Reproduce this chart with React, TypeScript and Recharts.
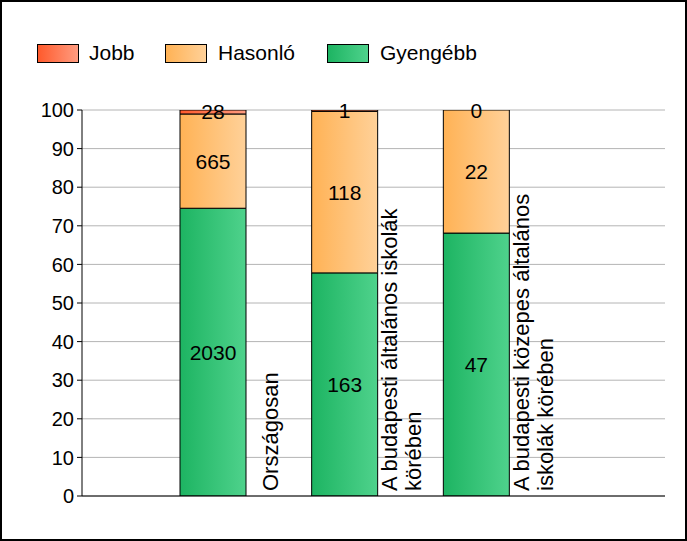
import { BarChart, Bar, XAxis, YAxis, CartesianGrid, Legend, LabelList } from "recharts";

const categories = [
  ["Országosan"],
  ["A budapesti általános iskolák", "körében"],
  ["A budapesti közepes általános", "iskolák körében"],
];
const jobb = [28, 1, 0];
const hasonlo = [665, 118, 22];
const gyengebb = [2030, 163, 47];
const yTicks = [0, 10, 20, 30, 40, 50, 60, 70, 80, 90, 100];

const series = [
  { key: "gyengebb", name: "Gyengébb", from: "#1db462", to: "#4fd28c" },
  { key: "hasonlo", name: "Hasonló", from: "#ffb255", to: "#ffd199" },
  { key: "jobb", name: "Jobb", from: "#ff5a2c", to: "#ff9c80" },
];

const data = categories.map((lines, i) => {
  const total = jobb[i] + hasonlo[i] + gyengebb[i];
  return {
    name: lines.join(" "),
    lines,
    jobb: (jobb[i] / total) * 100,
    hasonlo: (hasonlo[i] / total) * 100,
    gyengebb: (gyengebb[i] / total) * 100,
    jobbN: jobb[i],
    hasonloN: hasonlo[i],
    gyengebbN: gyengebb[i],
  };
});

const FONT = "Arial, 'Liberation Sans', sans-serif";

function CategoryTick(props: any) {
  const { x, index } = props;
  const lines = categories[index] || [];
  const baseY = 489;
  return (
    <g transform={`translate(${x + 57}, ${baseY}) rotate(-90)`}>
      {lines.map((line, i) => (
        <text
          key={i}
          x={0}
          y={(i - (lines.length - 1) / 2) * 24}
          dy="0.36em"
          textAnchor="start"
          fontSize={22}
          fontFamily={FONT}
          fill="#000"
        >
          {line}
        </text>
      ))}
    </g>
  );
}

// zero-height "Jobb" segments get no label of their own, so write it at the top of "Hasonló"
function ZeroTopLabel(props: any) {
  const { viewBox, value } = props;
  if (value !== 0 || !viewBox) return null;
  return (
    <text
      x={viewBox.x + viewBox.width / 2}
      y={viewBox.y}
      dy="0.36em"
      textAnchor="middle"
      fontSize={21}
      fontFamily={FONT}
      fill="#000"
    >
      0
    </text>
  );
}

function LegendContent() {
  const items = [
    { name: "Jobb", sq: 35, tx: 87, s: series[2] },
    { name: "Hasonló", sq: 163, tx: 216, s: series[1] },
    { name: "Gyengébb", sq: 325, tx: 378, s: series[0] },
  ];
  return (
    <div style={{ position: "relative", width: 683, height: 88, fontFamily: FONT }}>
      {items.map((it) => (
        <div key={it.name}>
          <div
            style={{
              position: "absolute",
              left: it.sq,
              top: 22,
              width: 42,
              height: 19,
              boxSizing: "border-box",
              border: "1px solid #000",
              background: `linear-gradient(to right, ${it.s.from}, ${it.s.to})`,
            }}
          />
          <div
            style={{
              position: "absolute",
              left: it.tx,
              top: 19,
              lineHeight: "24px",
              fontSize: 21,
              color: "#000",
              whiteSpace: "nowrap",
            }}
          >
            {it.name}
          </div>
        </div>
      ))}
    </div>
  );
}

export default function App() {
  return (
    <div
      style={{
        position: "absolute",
        left: 0,
        top: 0,
        width: 687,
        height: 541,
        boxSizing: "border-box",
        border: "2px solid #000",
        background: "#fff",
      }}
    >
      <BarChart
        width={683}
        height={537}
        data={data}
        margin={{ top: 20, right: 20, bottom: 3, left: 0 }}
        barCategoryGap={0}
      >
        <defs>
          {series.map((s) => (
            <linearGradient key={s.key} id={`grad-${s.key}`} x1="0" y1="0" x2="1" y2="0">
              <stop offset="0%" stopColor={s.from} />
              <stop offset="100%" stopColor={s.to} />
            </linearGradient>
          ))}
        </defs>
        <Legend verticalAlign="top" align="left" content={<LegendContent />} wrapperStyle={{ left: 0, width: 683 }} />
        <CartesianGrid vertical={false} stroke="#b4b4b4" strokeWidth={1} />
        <XAxis
          dataKey="name"
          height={40}
          axisLine={{ stroke: "#000", strokeWidth: 1 }}
          tickLine={false}
          interval={0}
          padding={{ left: 65, right: 123 }}
          tick={<CategoryTick />}
        />
        <YAxis
          width={80}
          domain={[0, 100]}
          ticks={yTicks}
          allowDataOverflow
          axisLine={{ stroke: "#000", strokeWidth: 1 }}
          tickLine={{ stroke: "#000" }}
          tickSize={5}
          tickMargin={3}
          tick={{ fill: "#000", fontSize: 20, fontFamily: FONT }}
        />
        {series.map((s) => (
          <Bar
            key={s.key}
            dataKey={s.key}
            name={s.name}
            stackId="a"
            barSize={66}
            fill={`url(#grad-${s.key})`}
            stroke="#000"
            strokeWidth={1}
            isAnimationActive={false}
          >
            <LabelList
              dataKey={`${s.key}N`}
              position="center"
              fill="#000"
              fontSize={21}
              fontFamily={FONT}
            />
            {s.key === "hasonlo" && <LabelList dataKey="jobbN" content={<ZeroTopLabel />} />}
          </Bar>
        ))}
      </BarChart>
    </div>
  );
}
